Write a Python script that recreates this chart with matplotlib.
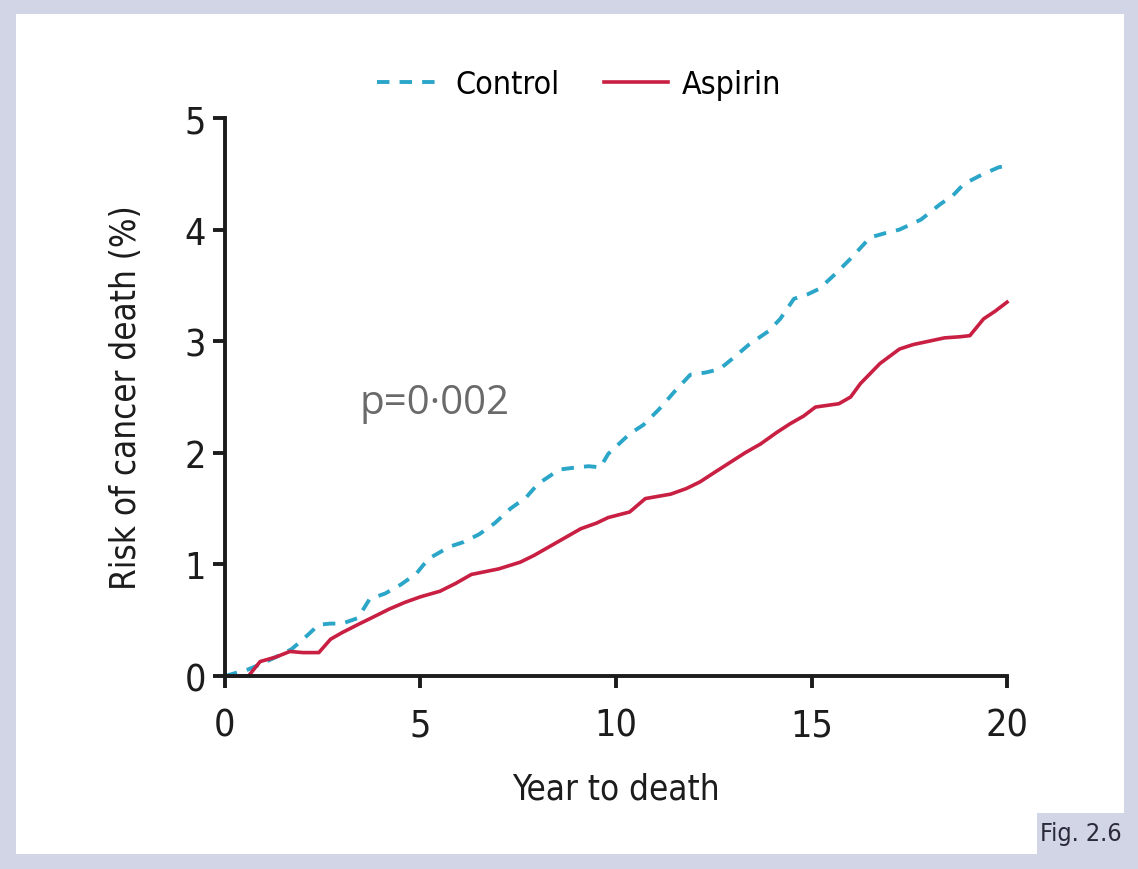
import matplotlib.pyplot as plt
from matplotlib.patches import Rectangle

# cumulative risk of cancer death (%) by years of follow-up
control_years = [0, 0.3, 0.6, 1.0, 1.3, 1.7, 2.0, 2.4, 2.7, 3.0, 3.4, 3.7, 4.1, 4.5, 4.9,
                 5.2, 5.75, 6.1, 6.5, 6.9, 7.3, 7.7, 8.0, 8.55, 9.0, 9.3, 9.6, 9.8, 10.35,
                 10.7, 11.1, 11.5, 11.9, 12.3, 12.65, 13.0, 13.4, 13.9, 14.2, 14.55, 14.9,
                 15.2, 15.6, 16.0, 16.5, 16.9, 17.25, 17.8, 18.3, 18.6, 18.9, 19.4, 19.8, 20.0]
control_risk = [0, 0.03, 0.06, 0.12, 0.17, 0.24, 0.33, 0.46, 0.47, 0.47, 0.52, 0.69, 0.74, 0.82, 0.92,
                1.05, 1.16, 1.2, 1.27, 1.37, 1.5, 1.6, 1.72, 1.85, 1.87, 1.88, 1.87, 1.99, 2.17,
                2.25, 2.39, 2.55, 2.7, 2.72, 2.75, 2.85, 2.97, 3.09, 3.2, 3.38, 3.42,
                3.47, 3.6, 3.74, 3.93, 3.97, 4.0, 4.09, 4.23, 4.3, 4.41, 4.5, 4.56, 4.57]

aspirin_years = [0, 0.6, 0.9, 1.3, 1.66, 2.0, 2.4, 2.7, 3.0, 3.45, 3.8, 4.2, 4.6, 5.0, 5.5,
                 5.9, 6.3, 7.0, 7.55, 7.9, 8.3, 8.7, 9.1, 9.5, 9.8, 10.35, 10.75, 11.4, 11.8,
                 12.15, 12.5, 12.9, 13.3, 13.7, 14.1, 14.45, 14.8, 15.1, 15.7, 16.0, 16.25,
                 16.75, 17.25, 17.6, 18.0, 18.4, 18.8, 19.05, 19.4, 19.7, 20.0]
aspirin_risk = [0, 0.0, 0.13, 0.17, 0.22, 0.21, 0.21, 0.33, 0.39, 0.47, 0.53, 0.6, 0.66, 0.71, 0.76,
                0.83, 0.91, 0.96, 1.02, 1.08, 1.16, 1.24, 1.32, 1.37, 1.42, 1.47, 1.59, 1.63, 1.68,
                1.74, 1.82, 1.91, 2.0, 2.08, 2.18, 2.26, 2.33, 2.41, 2.44, 2.5, 2.62,
                2.8, 2.93, 2.97, 3.0, 3.03, 3.04, 3.05, 3.2, 3.27, 3.35]

x_ticks = [0, 5, 10, 15, 20]
y_ticks = [0, 1, 2, 3, 4, 5]

frame_col = '#d2d5e5'
control_col = '#2ba6c8'
aspirin_col = '#c81f43'
ink = '#1c1c1c'

plt.rcParams['font.family'] = ['DejaVu Sans']
plt.rcParams['font.stretch'] = 'condensed'

fig = plt.figure(figsize=(11.38, 8.7), dpi=100)
fig.patch.set_facecolor(frame_col)
fig.patches.append(Rectangle((0.014, 0.0172), 0.9737, 0.9656, transform=fig.transFigure,
                             facecolor='white', edgecolor='none', zorder=-1))
fig.patches.append(Rectangle((0.9112, 0.0172), 0.0765, 0.047, transform=fig.transFigure,
                             facecolor=frame_col, edgecolor='none', zorder=0))
fig.text(0.950, 0.041, 'Fig. 2.6', ha='center', va='center', fontsize=18, color='#2a2a3a')

ax = fig.add_axes([0.1977, 0.2218, 0.6872, 0.6414])
ax.set_facecolor('none')

ax.plot(control_years, control_risk, color=control_col, lw=2.8, ls=(0, (3.2, 2.6)),
        label='Control', clip_on=False, dash_capstyle='butt')
ax.plot(aspirin_years, aspirin_risk, color=aspirin_col, lw=2.6, label='Aspirin', clip_on=False)

ax.set_xlim(0, 20)
ax.set_ylim(0, 5)
ax.set_xticks(x_ticks)
ax.set_yticks(y_ticks)
for side in ['top', 'right']:
    ax.spines[side].set_visible(False)
for side in ['left', 'bottom']:
    ax.spines[side].set_linewidth(2.8)
    ax.spines[side].set_color(ink)
ax.tick_params(axis='both', direction='out', length=8.5, width=2.8, color=ink,
               labelsize=27, labelcolor=ink)
ax.tick_params(axis='x', pad=14)
ax.tick_params(axis='y', pad=5)

ax.set_xlabel('Year to death', fontsize=25, color=ink, labelpad=20)
ax.set_ylabel('Risk of cancer death (%)', fontsize=25, color=ink, labelpad=30)

ax.text(5.37, 2.45, 'p=0\u00b7002', fontsize=29, color='#6a6a6a', ha='center', va='center',
        family=['Open Sans', 'DejaVu Sans'], stretch='normal')

fig.legend(loc='center', bbox_to_anchor=(0.509, 0.902), ncol=2, frameon=False,
           fontsize=23, handlelength=2.0, columnspacing=1.4, handletextpad=0.45)

fig.savefig('out.png', dpi=100, facecolor=fig.get_facecolor())
